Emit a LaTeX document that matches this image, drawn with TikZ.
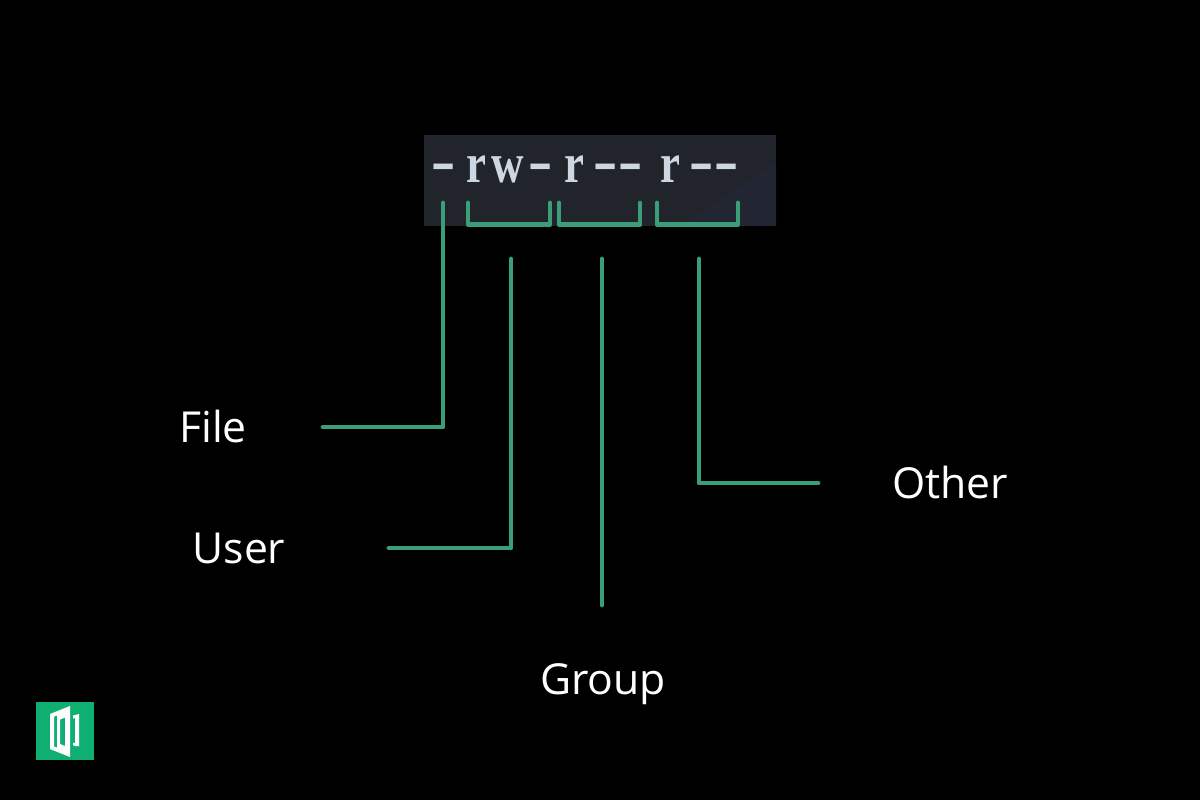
\documentclass[tikz,border=0pt]{standalone}
\usepackage{fontspec}
\setmainfont{Open Sans}
\newfontfamily\modeletter[FakeStretch=0.8]{Liberation Serif}
\newfontfamily\modedashfont{Liberation Mono}
\usepackage{xcolor}
\definecolor{termgray}{RGB}{34,36,43}
\definecolor{termblue}{RGB}{33,38,50}
\definecolor{leadgreen}{RGB}{58,158,120}
\definecolor{logogreen}{RGB}{15,175,114}
\definecolor{modetext}{RGB}{205,215,225}
\tikzset{
  leadline/.style={draw=leadgreen,line width=2.8pt,line join=round,line cap=round},
  fieldlabel/.style={font=\fontsize{24.3}{27}\selectfont,text=white,inner sep=0pt},
  modechar/.style={font=\fontsize{32}{36}\modeletter\bfseries\selectfont,text=modetext,inner sep=0pt,anchor=base},
  modedash/.style={font=\fontsize{40}{44}\modedashfont\selectfont,text=modetext,inner sep=0pt,anchor=base},
}
\begin{document}
\begin{tikzpicture}[x=0.02cm,y=-0.02cm,line join=round]
\useasboundingbox (0,0) rectangle (1200,800);
\fill[black] (0,0) rectangle (1200,800);
\fill[termgray] (424,135) rectangle (776,226);
\fill[termblue] (776,163) -- (776,226) -- (680,226) -- cycle;
% the mode string, one letter at a time
\node[modedash] (m1) at (444,186) {-};
\node[modechar] (m2) at (476,183) {r};
\node[modechar] (m3) at (508,183) {w};
\node[modedash] (m4) at (541,186) {-};
\node[modechar] (m5) at (574,183) {r};
\node[modedash] (m6) at (606,186) {-};
\node[modedash] (m7) at (631,186) {-};
\node[modechar] (m8) at (670,183) {r};
\node[modedash] (m9) at (702,186) {-};
\node[modedash] (m10) at (727,186) {-};
% brackets under the letters
\coordinate (usera) at (468,203);
\coordinate (userb) at (550,203);
\coordinate (groupa) at (559,203);
\coordinate (groupb) at (640,203);
\coordinate (othera) at (657,203);
\coordinate (otherb) at (738,203);
\draw[leadline] (usera) -- (468,224.5) -- (550,224.5) -- (userb);
\draw[leadline] (groupa) -- (559,224.5) -- (640,224.5) -- (groupb);
\draw[leadline] (othera) -- (657,224.5) -- (738,224.5) -- (otherb);
% labels and their leaders
\node[fieldlabel] (file) at (213,426) {File};
\node[fieldlabel] (user) at (239,548) {User};
\node[fieldlabel] (group) at (603,684) {Group};
\node[fieldlabel] (other) at (950,482) {Other};
\coordinate (filetop) at (443,203);
\coordinate (fileend) at (323,427);
\coordinate (usertop) at (511,259);
\coordinate (userend) at (389,548);
\coordinate (grouptop) at (602,259);
\coordinate (groupend) at (602,605);
\coordinate (othertop) at (699,259);
\coordinate (otherend) at (818,483);
\draw[leadline] (fileend) -| (filetop);
\draw[leadline] (userend) -| (usertop);
\draw[leadline] (grouptop) -- (groupend);
\draw[leadline] (othertop) |- (otherend);
% logo
\fill[logogreen] (36,702) rectangle (93.5,760);
\fill[white,even odd rule] (50,714) -- (70,706) -- (70,757) -- (50,749) -- cycle
  (54,716.5) -- (54,746.5) -- (57,747.5) -- (57,715.5) -- cycle
  (60,719.5) -- (60,744) -- (65,746) -- (65,717.5) -- cycle;
\fill[white] (73,715.5) -- (79,714) -- (79,746) -- (75,746) -- (73,745) -- (73,742.5) -- (75,743) -- (75,718) -- (73,718.5) -- cycle;
\end{tikzpicture}
\end{document}
